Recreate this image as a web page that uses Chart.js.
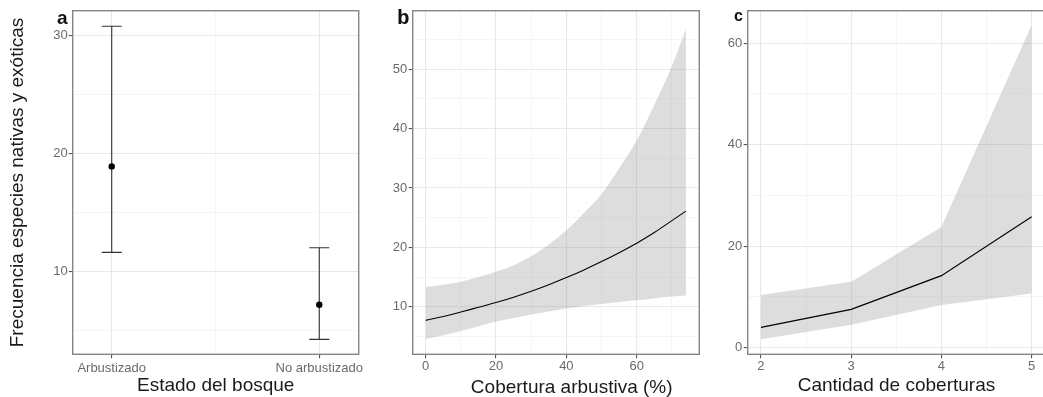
<!DOCTYPE html>
<html><head><meta charset="utf-8">
<script src="https://cdn.jsdelivr.net/npm/chart.js@4.4.0/dist/chart.umd.min.js"></script>
<style>
html,body{margin:0;padding:0;background:#fff;width:1043px;height:397px;overflow:hidden;position:relative}
canvas{position:absolute;top:0}
</style></head><body>
<canvas id="ca" width="370" height="400" style="left:0px"></canvas>
<canvas id="cb" width="340" height="400" style="left:370px"></canvas>
<canvas id="cc" width="360" height="400" style="left:700px"></canvas>
<script>
// ---------- Panel a : Estado del bosque ----------
const estadoCategories = ['Arbustizado', 'No arbustizado'];
const estadoEstimate = [18.9, 7.16];
const estadoLower = [11.6, 4.22];
const estadoUpper = [30.8, 12.0];
const aYMajor = [10, 20, 30];
const aYMinor = [5, 15, 25];

// ---------- Panel b : Cobertura arbustiva (%) ----------
const coberturaX     = [0, 5, 10, 15, 20, 25, 30, 35, 40, 45, 50, 55, 60, 65, 70, 74];
const coberturaFit   = [7.7, 8.35, 9.1, 9.9, 10.7, 11.6, 12.6, 13.7, 14.9, 16.2, 17.6, 19.1, 20.7, 22.5, 24.5, 26.1];
const coberturaLower = [4.55, 5.2, 5.9, 6.7, 7.5, 8.1, 8.7, 9.2, 9.7, 10.1, 10.45, 10.8, 11.1, 11.4, 11.7, 11.9];
const coberturaUpper = [13.3, 13.7, 14.2, 15.0, 15.9, 17.0, 18.5, 20.5, 22.9, 25.8, 29.0, 33.3, 38.0, 44.0, 50.5, 56.8];
const bXMajor = [0, 20, 40, 60];
const bXMinor = [10, 30, 50, 70];
const bYMajor = [10, 20, 30, 40, 50];
const bYMinor = [5, 15, 25, 35, 45, 55];

// ---------- Panel c : Cantidad de coberturas ----------
const cantidadX     = [2, 3, 4, 5];
const cantidadFit   = [4.0, 7.55, 14.2, 25.8];
const cantidadLower = [1.65, 4.5, 8.4, 10.7];
const cantidadUpper = [10.4, 13.0, 23.8, 63.6];
const cXMajor = [2, 3, 4, 5];
const cXMinor = [2.5, 3.5, 4.5];
const cYMajor = [0, 20, 40, 60];
const cYMinor = [10, 30, 50];

const FONT = "'Liberation Sans', Arial, Helvetica, sans-serif";
const TICK_COLOR = '#6b6b6b';
const TITLE_COLOR = '#1a1a1a';

function axis(o) {
  const major = o.major, minor = o.minor;
  const isMajor = c => c && c.tick && major.includes(c.tick.value);
  return {
    type: 'linear', position: o.pos, min: o.min, max: o.max,
    afterBuildTicks: s => { s.ticks = major.concat(minor).sort((a, b) => a - b).map(v => ({ value: v })); },
    afterFit: s => {
      if (o.pos === 'left') s.width = o.fit; else s.height = o.fit;
      s.paddingLeft = 0; s.paddingRight = 0; s.paddingTop = 0; s.paddingBottom = 0;
    },
    grid: {
      color: c => isMajor(c) ? '#e8e8e8' : '#f2f2f2',
      lineWidth: c => isMajor(c) ? 1.1 : 0.8,
      tickColor: c => isMajor(c) ? '#555555' : 'rgba(0,0,0,0)',
      tickLength: 4, drawTicks: true
    },
    border: { display: false },
    ticks: {
      autoSkip: false, maxRotation: 0, minRotation: 0, padding: o.tickPad,
      color: TICK_COLOR, font: { family: FONT, size: 13 },
      callback: o.label || (v => major.includes(v) ? String(v) : '')
    },
    title: o.title || { display: false }
  };
}

const borderPlugin = {
  id: 'panelBorder',
  afterDraw(chart) {
    const a = chart.chartArea, ctx = chart.ctx;
    ctx.save();
    ctx.strokeStyle = '#858585';
    ctx.lineWidth = 1.4;
    ctx.strokeRect(a.left, a.top, a.right - a.left, a.bottom - a.top);
    ctx.restore();
  }
};

const letterPlugin = {
  id: 'panelLetter',
  afterDraw(chart, args, opts) {
    const ctx = chart.ctx;
    ctx.save();
    ctx.font = opts.font;
    ctx.fillStyle = '#111';
    ctx.textBaseline = 'alphabetic';
    ctx.textAlign = 'left';
    ctx.fillText(opts.text, opts.x, opts.y);
    if (opts.xTitle) {
      ctx.font = "19px " + FONT;
      ctx.fillStyle = TITLE_COLOR;
      ctx.textAlign = 'center';
      ctx.fillText(opts.xTitle.text, opts.xTitle.x, opts.xTitle.y);
    }
    ctx.restore();
  }
};

const errorBarPlugin = {
  id: 'errorBars',
  beforeDatasetsDraw(chart) {
    const xs = chart.scales.x, ys = chart.scales.y, ctx = chart.ctx;
    ctx.save();
    ctx.strokeStyle = '#333333';
    ctx.lineWidth = 1.1;
    estadoCategories.forEach((c, i) => {
      const px = xs.getPixelForValue(i + 1);
      const pl = ys.getPixelForValue(estadoLower[i]);
      const pu = ys.getPixelForValue(estadoUpper[i]);
      ctx.beginPath();
      ctx.moveTo(px, pl); ctx.lineTo(px, pu);
      ctx.moveTo(px - 10, pl); ctx.lineTo(px + 10, pl);
      ctx.moveTo(px - 10, pu); ctx.lineTo(px + 10, pu);
      ctx.stroke();
    });
    ctx.restore();
  }
};

Chart.defaults.font.family = FONT;

const common = {
  responsive: false, animation: false, devicePixelRatio: 1,
  plugins: { legend: { display: false }, tooltip: { enabled: false } }
};

// Panel a
new Chart(document.getElementById('ca'), {
  type: 'scatter',
  data: {
    datasets: [{
      data: estadoCategories.map((c, i) => ({ x: i + 1, y: estadoEstimate[i] })),
      pointRadius: 3.2, pointBackgroundColor: '#000', pointBorderColor: '#000', borderWidth: 0
    }]
  },
  options: {
    ...common,
    layout: { padding: { left: 0, top: 10.7, right: 11.3, bottom: 0 } },
    plugins: { ...common.plugins, panelLetter: { text: 'a', font: "bold 19px " + FONT, x: 57, y: 24 } },
    scales: {
      x: axis({ pos: 'bottom', min: 0.812, max: 2.19, major: [1, 2], minor: [1.5], fit: 45.7, tickPad: 2,
        label: v => (v === 1 || v === 2) ? estadoCategories[v - 1] : '',
        title: { display: true, text: 'Estado del bosque', color: TITLE_COLOR, font: { family: FONT, size: 19 }, padding: { top: 0, bottom: 2.5 } } }),
      y: axis({ pos: 'left', min: 2.95, max: 32.12, major: aYMajor, minor: aYMinor, fit: 72.7, tickPad: 1,
        title: { display: true, text: 'Frecuencia especies nativas y exóticas', color: TITLE_COLOR, font: { family: FONT, size: 19 }, padding: { top: 6.5, bottom: 0 } } })
    }
  },
  plugins: [errorBarPlugin, borderPlugin, letterPlugin]
});

// Panel b
const ribbonFill = 'rgba(150,150,150,0.32)';
new Chart(document.getElementById('cb'), {
  type: 'line',
  data: {
    datasets: [
      { data: coberturaX.map((x, i) => ({ x, y: coberturaFit[i] })), borderColor: '#000', borderWidth: 1.1, pointRadius: 0, fill: false, cubicInterpolationMode: 'monotone' },
      { data: coberturaX.map((x, i) => ({ x, y: coberturaUpper[i] })), borderColor: 'rgba(0,0,0,0)', borderWidth: 0, pointRadius: 0, fill: '+1', backgroundColor: ribbonFill, cubicInterpolationMode: 'monotone' },
      { data: coberturaX.map((x, i) => ({ x, y: coberturaLower[i] })), borderColor: 'rgba(0,0,0,0)', borderWidth: 0, pointRadius: 0, fill: false, cubicInterpolationMode: 'monotone' }
    ]
  },
  options: {
    ...common,
    layout: { padding: { left: 0, top: 10.7, right: 10.7, bottom: 0 } },
    plugins: { ...common.plugins, panelLetter: { text: 'b', font: "bold 21px 'Liberation Mono', 'Courier New', monospace", x: 27, y: 24,
      xTitle: { text: 'Cobertura arbustiva (%)', x: 201.7, y: 393 } } },
    scales: {
      x: axis({ pos: 'bottom', min: -3.7, max: 77.8, major: bXMajor, minor: bXMinor, fit: 45.7, tickPad: 0 }),
      y: axis({ pos: 'left', min: 1.98, max: 59.87, major: bYMajor, minor: bYMinor, fit: 42.7, tickPad: 1.4 })
    }
  },
  plugins: [borderPlugin, letterPlugin]
});

// Panel c
new Chart(document.getElementById('cc'), {
  type: 'line',
  data: {
    datasets: [
      { data: cantidadX.map((x, i) => ({ x, y: cantidadFit[i] })), borderColor: '#000', borderWidth: 1.1, pointRadius: 0, fill: false, tension: 0 },
      { data: cantidadX.map((x, i) => ({ x, y: cantidadUpper[i] })), borderColor: 'rgba(0,0,0,0)', borderWidth: 0, pointRadius: 0, fill: '+1', backgroundColor: ribbonFill, tension: 0 },
      { data: cantidadX.map((x, i) => ({ x, y: cantidadLower[i] })), borderColor: 'rgba(0,0,0,0)', borderWidth: 0, pointRadius: 0, fill: false, tension: 0 }
    ]
  },
  options: {
    ...common,
    layout: { padding: { left: 0, top: 10.7, right: 14.8, bottom: 0 } },
    plugins: { ...common.plugins, panelLetter: { text: 'c', font: "bold 16px " + FONT, x: 34, y: 21 } },
    scales: {
      x: axis({ pos: 'bottom', min: 1.853, max: 5.15, major: cXMajor, minor: cXMinor, fit: 45.7, tickPad: 0,
        title: { display: true, text: 'Cantidad de coberturas', color: TITLE_COLOR, font: { family: FONT, size: 19 }, padding: { top: 0, bottom: 2.5 } } }),
      y: axis({ pos: 'left', min: -1.3, max: 66.4, major: cYMajor, minor: cYMinor, fit: 47.7, tickPad: 1.4 })
    }
  },
  plugins: [borderPlugin, letterPlugin]
});
</script>
</body></html>
